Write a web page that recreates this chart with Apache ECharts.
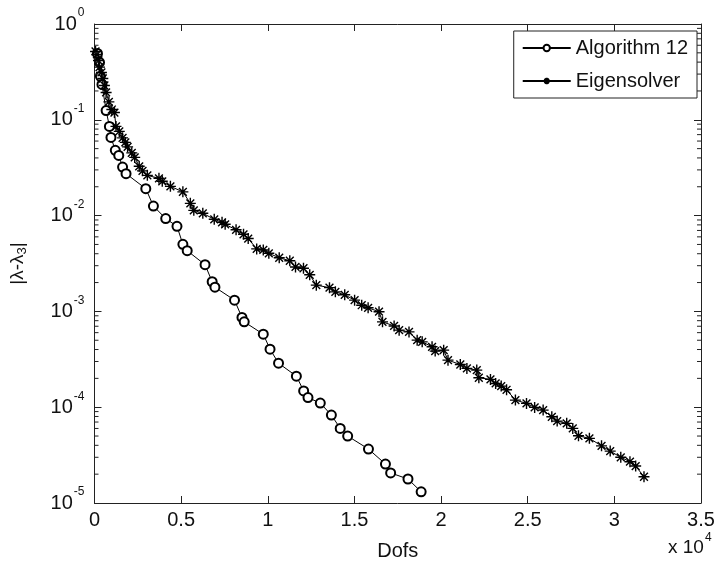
<!DOCTYPE html>
<html>
<head>
<meta charset="utf-8">
<script src="https://cdn.jsdelivr.net/npm/echarts@6/dist/echarts.min.js"></script>
<style>
  html, body { margin: 0; padding: 0; background: #fff; }
  #chart { width: 718px; height: 569px; }
</style>
</head>
<body>
<div id="chart"></div>
<script>
// Algorithm 12: degrees of freedom vs. eigenvalue error
const algDofs = [170, 290, 340, 430, 670, 860, 950, 1200, 1400, 1620, 1820, 2960, 3400, 4110, 4760, 5100, 5350, 6380, 6790, 6950, 8080, 8510, 8640, 9740, 10130, 10620, 11650, 12070, 12320, 13030, 13670, 14180, 14610, 15810, 16790, 17090, 18090, 18850];
const algErr = [0.492, 0.397, 0.284, 0.234, 0.125, 0.0853, 0.0655, 0.048, 0.0425, 0.0321, 0.0274, 0.0191, 0.01259, 0.0093, 0.00773, 0.00502, 0.0043, 0.00307, 0.00204, 0.00179, 0.00131, 0.000864, 0.000778, 0.000578, 0.000403, 0.000288, 0.000211, 0.000148, 0.000126, 0.0001104, 8.27e-5, 6.01e-5, 5.0e-5, 3.66e-5, 2.55e-5, 2.06e-5, 1.78e-5, 1.31e-5];

// Eigensolver: degrees of freedom vs. eigenvalue error
const eigDofs = [60, 140, 230, 290, 400, 480, 570, 670, 830, 1000, 1150, 1240, 1430, 1620, 1780, 1910, 2150, 2320, 2580, 2770, 3050, 3720, 3910, 4380, 5100, 5530, 5730, 6250, 6910, 7360, 7540, 8170, 8600, 8870, 9360, 9740, 10060, 10660, 11270, 11600, 12060, 12420, 12800, 13560, 13900, 14440, 15010, 15420, 15790, 16420, 16620, 17290, 17580, 18150, 18620, 18910, 19480, 19660, 20150, 20400, 21110, 21490, 22060, 22180, 22850, 23150, 23470, 23780, 24290, 24930, 25400, 25890, 26390, 26700, 27250, 27600, 27930, 28560, 29260, 29760, 30370, 30900, 31230, 31710];
const eigErr = [0.517, 0.481, 0.416, 0.355, 0.312, 0.270, 0.228, 0.193, 0.154, 0.128, 0.119, 0.0853, 0.0757, 0.0648, 0.0581, 0.0522, 0.0452, 0.0405, 0.0327, 0.0293, 0.0263, 0.0245, 0.0228, 0.0202, 0.0177, 0.01343, 0.01135, 0.01057, 0.00915, 0.00851, 0.00811, 0.00711, 0.00638, 0.00576, 0.00449, 0.00438, 0.00404, 0.00363, 0.00338, 0.00291, 0.00282, 0.00241, 0.00188, 0.00177, 0.00160, 0.00149, 0.00131, 0.00116, 0.00109, 0.000993, 0.000778, 0.000705, 0.000637, 0.000611, 0.000501, 0.000481, 0.000427, 0.000385, 0.000394, 0.000310, 0.000279, 0.000254, 0.000244, 0.000203, 0.000195, 0.000177, 0.000166, 0.000152, 0.0001186, 0.0001096, 9.95e-5, 9.33e-5, 7.94e-5, 7.16e-5, 6.78e-5, 6.01e-5, 5.03e-5, 4.73e-5, 3.95e-5, 3.48e-5, 3.0e-5, 2.70e-5, 2.43e-5, 1.88e-5];

// Axis ticks
const xTickLabels = ['0', '0.5', '1', '1.5', '2', '2.5', '3', '3.5'];
const yExponents = [-5, -4, -3, -2, -1, 0];

const FONT = "'Liberation Sans', Arial, Helvetica, sans-serif";
const INK = '#111';
const FRAME = '#222';

// Minor ticks of the log axis (2..9 within each decade)
const minorTicks = [];
yExponents.slice(0, -1).forEach(function (e) {
  for (let m = 2; m <= 9; m++) minorTicks.push([0, m * Math.pow(10, e)]);
});

// asterisk marker made of four strokes
const STAR = 'path://M0,-10L0,10M-10,0L10,0M-7.1,-7.1L7.1,7.1M-7.1,7.1L7.1,-7.1';

const chart = echarts.init(document.getElementById('chart'), null, { renderer: 'canvas' });

const tickCommon = { show: true, inside: true, length: 7, lineStyle: { color: FRAME, width: 1 } };
const lineCommon = { show: true, onZero: false, lineStyle: { color: FRAME, width: 1 } };

chart.setOption({
  animation: false,
  backgroundColor: '#fff',
  grid: { left: 90, right: 17, top: 24, bottom: 66, containLabel: false },
  legend: {
    data: ['Algorithm 12', 'Eigensolver'],
    orient: 'vertical',
    right: 21,
    top: 31,
    backgroundColor: '#fff',
    borderColor: FRAME,
    borderWidth: 1,
    borderRadius: 0,
    padding: [7, 9, 7, 8],
    itemGap: 13,
    itemWidth: 48,
    itemHeight: 8,
    textStyle: { fontFamily: FONT, fontSize: 20, lineHeight: 20, color: INK }
  },
  xAxis: [
    {
      type: 'value', min: 0, max: 35000, interval: 5000,
      axisLine: lineCommon,
      axisTick: tickCommon,
      splitLine: { show: false },
      axisLabel: {
        color: INK, fontFamily: FONT, fontSize: 20, margin: 7,
        formatter: function (v) { return xTickLabels[Math.round(v / 5000)]; }
      },
      name: 'Dofs', nameLocation: 'middle', nameGap: 38,
      nameTextStyle: { color: INK, fontFamily: FONT, fontSize: 20 }
    },
    {
      type: 'value', min: 0, max: 35000, interval: 5000, position: 'top',
      axisLine: lineCommon, axisTick: tickCommon,
      splitLine: { show: false }, axisLabel: { show: false }
    }
  ],
  yAxis: [
    {
      type: 'log', logBase: 10, min: 1e-5, max: 1,
      axisLine: lineCommon,
      axisTick: tickCommon,
      splitLine: { show: false },
      axisLabel: {
        margin: 10,
        formatter: function (v) {
          const e = Math.round(Math.log10(v));
          return '{b|10}{s|' + e + '}';
        },
        rich: {
          b: { fontFamily: FONT, fontSize: 20, color: INK },
          s: { fontFamily: FONT, fontSize: 12, color: INK, verticalAlign: 'top', padding: [0, 0, 22, 1] }
        }
      },
      name: '{a||λ-λ}{c|3}{a||}',
      nameLocation: 'middle', nameGap: 66, nameRotate: 90,
      nameTextStyle: {
        rich: {
          a: { fontFamily: FONT, fontSize: 19, color: INK },
          c: { fontFamily: FONT, fontSize: 13, color: INK, verticalAlign: 'bottom', padding: [9, 0, 0, 0] }
        }
      }
    },
    {
      type: 'log', logBase: 10, min: 1e-5, max: 1, position: 'right',
      axisLine: lineCommon, axisTick: tickCommon,
      splitLine: { show: false }, axisLabel: { show: false }
    }
  ],
  graphic: [
    {
      type: 'text', left: 668, top: 532,
      style: {
        text: '{m|x 10}{e|4}',
        rich: {
          m: { fontFamily: FONT, fontSize: 19, fill: INK },
          e: { fontFamily: FONT, fontSize: 12, fill: INK, verticalAlign: 'top', padding: [0, 0, 20, 1] }
        }
      }
    }
  ],
  series: [
    {
      name: 'Algorithm 12', type: 'line',
      data: algDofs.map(function (x, i) { return [x, algErr[i]]; }),
      symbol: 'emptyCircle', symbolSize: 9, showAllSymbol: true,
      lineStyle: { color: '#000', width: 1 },
      itemStyle: { color: '#000', borderColor: '#000', borderWidth: 1 },
      z: 3
    },
    {
      name: 'Eigensolver', type: 'line',
      data: eigDofs.map(function (x, i) { return [x, eigErr[i]]; }),
      symbol: STAR, symbolSize: 11, showAllSymbol: true,
      lineStyle: { color: '#000', width: 1 },
      itemStyle: { color: '#000', borderColor: '#000', borderWidth: 1.4 },
      z: 3
    },
    {
      name: 'minorTicks', type: 'custom', silent: true,
      data: minorTicks,
      encode: { x: 0, y: 1 },
      renderItem: function (params, api) {
        const v = api.value(1);
        const pl = api.coord([0, v]);
        const pr = api.coord([35000, v]);
        const st = { stroke: FRAME, lineWidth: 1 };
        return {
          type: 'group',
          children: [
            { type: 'line', shape: { x1: pl[0], y1: pl[1], x2: pl[0] + 4, y2: pl[1] }, style: st },
            { type: 'line', shape: { x1: pr[0] - 4, y1: pr[1], x2: pr[0], y2: pr[1] }, style: st }
          ]
        };
      },
      z: 4
    }
  ]
});
</script>
</body>
</html>
